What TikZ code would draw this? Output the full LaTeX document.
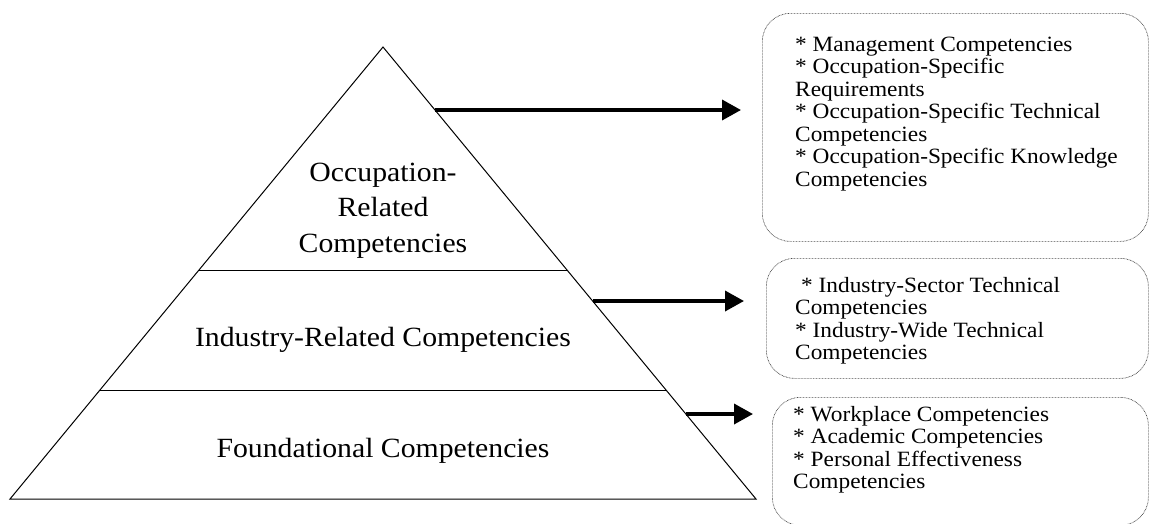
\documentclass[tikz,border=0pt]{standalone}
\usepackage{fontspec}
\setmainfont{Liberation Serif}
\usetikzlibrary{arrows.meta}
\begin{document}
\begin{tikzpicture}[x=1pt,y=-1pt,
  pyr/.style={line width=1pt},
  pyrtext/.style={anchor=base, inner sep=0pt, xscale=1.07, font=\fontsize{27.8}{33}\selectfont},
  btext/.style={anchor=base west, inner sep=0pt, xscale=1.07, font=\fontsize{21.8}{22.5}\selectfont},
  dbox/.style={draw=black!70, line width=0.7pt, dash pattern=on 0.75pt off 0.75pt, rounded corners=28pt, anchor=north west, inner sep=0pt},
  arr/.style={line width=3.6pt, -{Triangle[length=19pt,width=20pt]}}
]
\useasboundingbox (0,0) rectangle (1150,523);
% pyramid
\coordinate (apex) at (383,47);
\coordinate (bl) at (10,499);
\coordinate (br) at (756,499);
\draw[pyr] (apex) -- (bl) -- (br) -- cycle;
\coordinate (d1l) at (199,270);
\coordinate (d1r) at (567,270);
\coordinate (d2l) at (100,390);
\coordinate (d2r) at (666,390);
\draw[pyr] (d1l) -- (d1r);
\draw[pyr] (d2l) -- (d2r);
% pyramid labels
\node[pyrtext] (p1a) at (383,181.7) {Occupation-};
\node[pyrtext] (p1b) at (383,216.7) {Related};
\node[pyrtext] (p1c) at (383,252.3) {Competencies};
\node[pyrtext] (p2) at (383,346.7) {Industry-Related Competencies};
\node[pyrtext] (p3) at (383,457) {Foundational Competencies};
% boxes
\node[dbox, minimum width=386pt, minimum height=228pt] (box1) at (762,13) {};
\node[dbox, minimum width=382pt, minimum height=120pt] (box2) at (766,258) {};
\node[dbox, minimum width=376pt, minimum height=128pt] (box3) at (772,397) {};
% arrows
\coordinate (a1s) at (435,110);
\coordinate (a1e) at (741,110);
\coordinate (a2s) at (593,301);
\coordinate (a2e) at (744,301);
\coordinate (a3s) at (686,414);
\coordinate (a3e) at (753,414);
\draw[arr] (a1s) -- (a1e);
\draw[arr] (a2s) -- (a2e);
\draw[arr] (a3s) -- (a3e);
% box 1 text
\node[btext] (t11) at (795,51) {* Management Competencies};
\node[btext] (t12) at (795,73.5) {* Occupation-Specific};
\node[btext] (t13) at (795,96) {Requirements};
\node[btext] (t14) at (795,118.5) {* Occupation-Specific Technical};
\node[btext] (t15) at (795,141) {Competencies};
\node[btext] (t16) at (795,163.5) {* Occupation-Specific Knowledge};
\node[btext] (t17) at (795,186) {Competencies};
% box 2 text
\node[btext] (t21) at (801,292) {* Industry-Sector Technical};
\node[btext] (t22) at (795,314.5) {Competencies};
\node[btext] (t23) at (795,337) {* Industry-Wide Technical};
\node[btext] (t24) at (795,359.5) {Competencies};
% box 3 text
\node[btext] (t31) at (793,421) {* Workplace Competencies};
\node[btext] (t32) at (793,443.5) {* Academic Competencies};
\node[btext] (t33) at (793,466) {* Personal Effectiveness};
\node[btext] (t34) at (793,488.5) {Competencies};
\end{tikzpicture}
\end{document}
